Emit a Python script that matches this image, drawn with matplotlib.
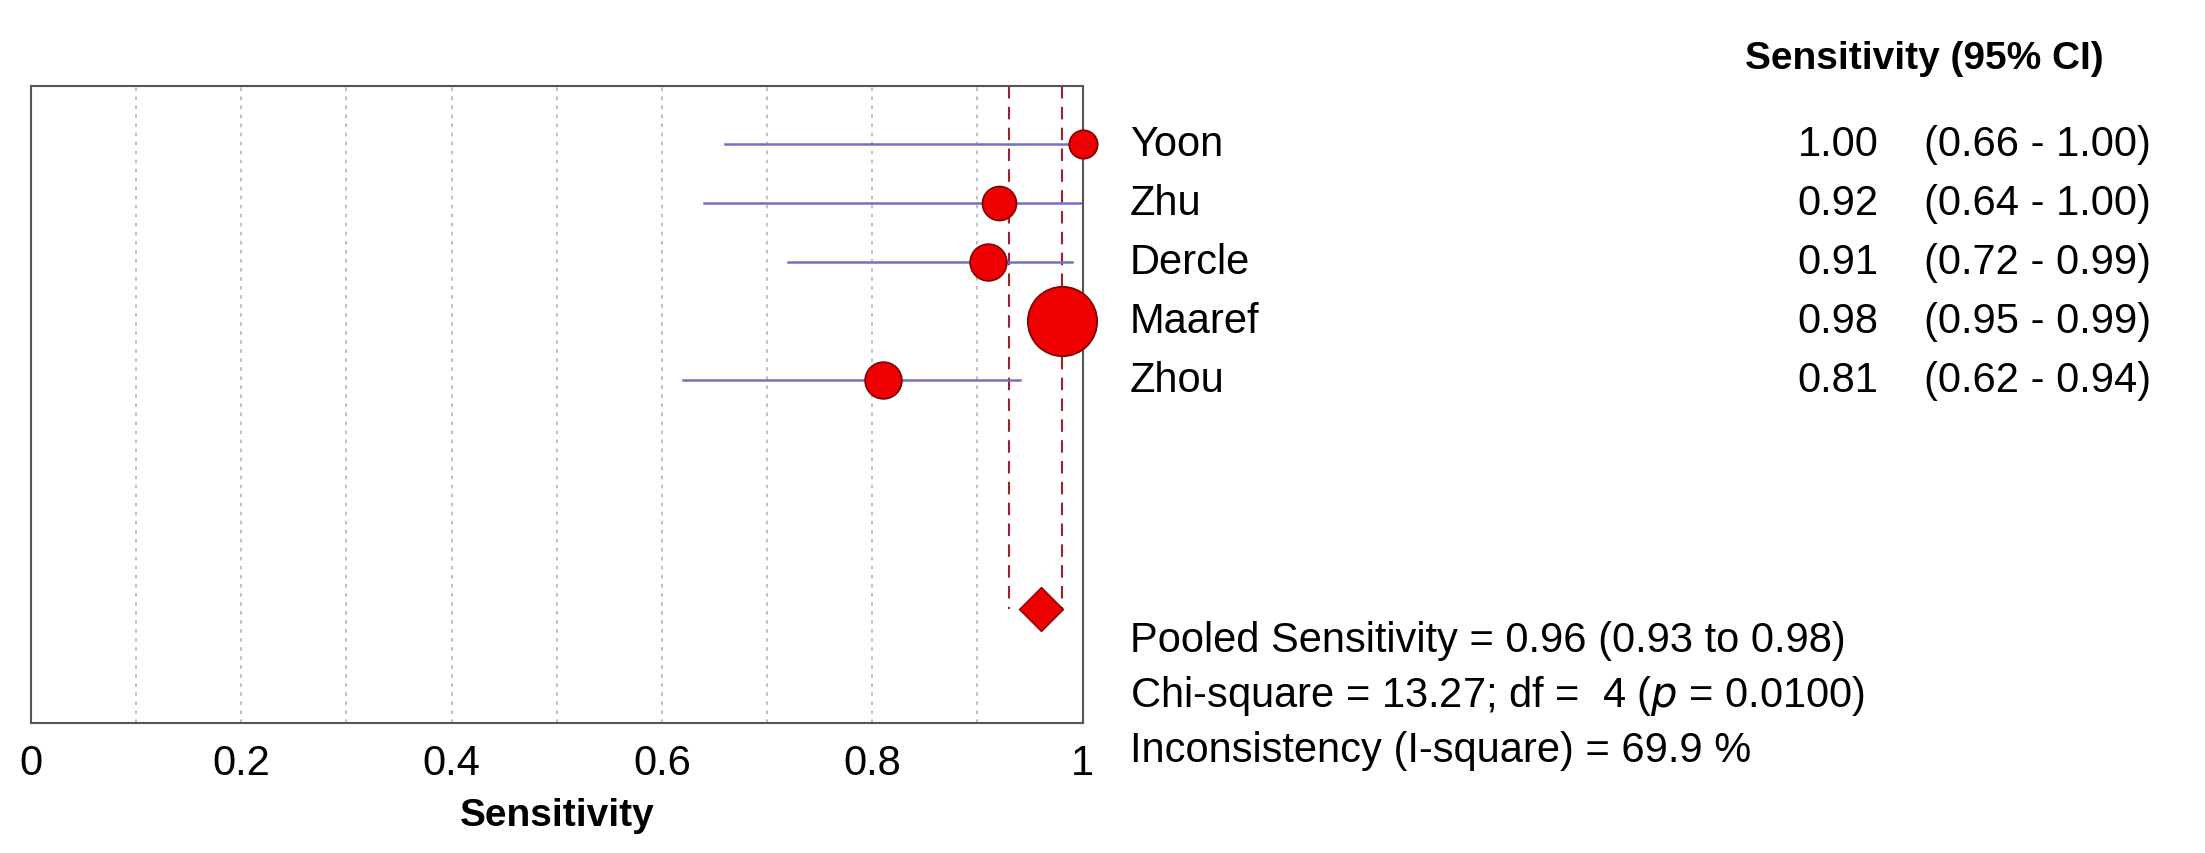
import matplotlib
matplotlib.use("Agg")
import matplotlib.pyplot as plt

plt.rcParams['font.family'] = ['Liberation Sans', 'DejaVu Sans']

studies = ["Yoon", "Zhu", "Dercle", "Maaref", "Zhou"]
sens = [1.00, 0.92, 0.91, 0.98, 0.81]
lo = [0.66, 0.64, 0.72, 0.95, 0.62]
hi = [1.00, 1.00, 0.99, 0.99, 0.94]
weights = [420, 600, 700, 2500, 700]  # relative study weight (marker area)
pooled, pooled_lo, pooled_hi = 0.96, 0.93, 0.98
stats = ["Pooled Sensitivity = 0.96 (0.93 to 0.98)",
         "Chi-square = 13.27; df =  4 ($p$ = 0.0100)",
         "Inconsistency (I-square) = 69.9 %"]
xticks = [0, 0.2, 0.4, 0.6, 0.8, 1]
xticklabels = ["0", "0.2", "0.4", "0.6", "0.8", "1"]

fig = plt.figure(figsize=(22.05, 8.54), dpi=100)
ax = fig.add_axes([0.014, 0.152, 0.477, 0.746])
ax.set_xlim(0, 1)
ax.set_ylim(9.8, -0.98)
for g in [0.1 * i for i in range(1, 10)]:
    ax.axvline(g, color="#bbbbbb", ls=(0, (2, 3)), lw=1.3, zorder=0)

pooled_y = 7.86
for xv in (pooled_lo, pooled_hi):
    ax.plot([xv, xv], [-0.98, pooled_y], color="#a02030", ls=(0, (6, 4)), lw=1.5, zorder=1)

for i, (s, l, h, w) in enumerate(zip(sens, lo, hi, weights)):
    ax.plot([l, h], [i, i], color="#7070c8", lw=1.8, zorder=2)
    ax.scatter([s], [i], s=w, color="#ee0000", edgecolor="#800000", lw=1.2,
               zorder=3, clip_on=False)

ax.scatter([pooled], [pooled_y], marker="D", s=500, color="#ee0000",
           edgecolor="#800000", zorder=3)

ax.set_yticks([])
ax.set_xticks(xticks)
ax.set_xticklabels(xticklabels, fontsize=30)
ax.tick_params(axis="x", length=0, pad=14)
ax.set_xlabel("Sensitivity", fontsize=28, fontweight="bold", labelpad=10)
for sp in ax.spines.values():
    sp.set_color("#555555")
    sp.set_linewidth(1.5)

for i, (name, s, l, h) in enumerate(zip(studies, sens, lo, hi)):
    ax.text(1.045, i, name, fontsize=30, va="center", ha="left", clip_on=False)
    ax.text(1.68, i, f"{s:.2f}", fontsize=30, va="center", ha="left", clip_on=False)
    ax.text(1.80, i, f"({l:.2f} - {h:.2f})", fontsize=30, va="center", ha="left", clip_on=False)
ax.text(1.63, -1.45, "Sensitivity (95% CI)", fontsize=28, fontweight="bold",
        va="center", ha="left", clip_on=False)
for k, t in enumerate(stats):
    ax.text(1.045, 8.4 + 0.93 * k, t, fontsize=30, va="center", ha="left", clip_on=False)

fig.savefig("out.png", dpi=100, facecolor="white")
